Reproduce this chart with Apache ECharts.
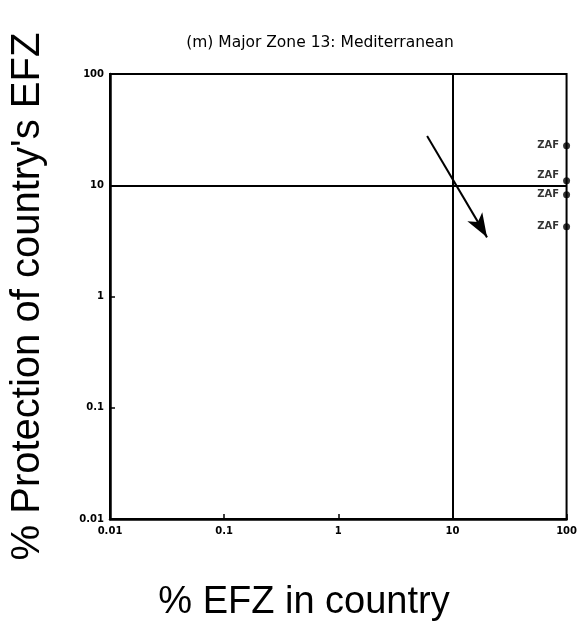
<!DOCTYPE html>
<html>
<head>
<meta charset="utf-8">
<script src="https://cdn.jsdelivr.net/npm/echarts@6/dist/echarts.min.js"></script>
<style>html,body{margin:0;padding:0;background:#fff}#c{width:580px;height:621px}</style>
</head>
<body>
<div id="c"></div>
<script>
// ---- data ----
const xTickLabels = ['0.01', '0.1', '1', '10', '100'];
const yTickLabels = ['0.01', '0.1', '1', '10', '100'];
const countries = ['ZAF', 'ZAF', 'ZAF', 'ZAF'];
const efzInCountry = [100, 100, 100, 100];
const protection = [22.7, 11.0, 8.2, 4.24];
const refLineX = 10;
const refLineY = 10;
const arrowFrom = [6.0, 27.7];
const arrowTo = [20.1, 3.4];

const chart = echarts.init(document.getElementById('c'));
const tickFmt = (labels) => (v) => {
  const i = Math.round(Math.log10(v)) + 2;
  return labels[i] !== undefined ? labels[i] : '';
};
const points = efzInCountry.map((x, i) => {
  const item = { value: [x, protection[i]], name: countries[i] };
  if (i === 1) item.label = { offset: [0, -5] };
  return item;
});
const tickLabelStyle = { fontFamily: 'DejaVu Sans', fontWeight: 'bold', fontSize: 10, color: '#000' };

chart.setOption({
  backgroundColor: '#ffffff',
  animation: false,
  title: [
    { text: '(m) Major Zone 13: Mediterranean', left: 315, top: 30, textAlign: 'center',
      textStyle: { fontFamily: 'DejaVu Sans', fontWeight: 'normal', fontSize: 15.5, color: '#000' } },
    { text: '% EFZ in country', left: 299, top: 579, textAlign: 'center',
      textStyle: { fontFamily: 'Liberation Sans', fontWeight: 'normal', fontSize: 38, color: '#000' } }
  ],
  grid: { left: 109, right: 13, top: 74, bottom: 102, show: true, borderColor: '#000', borderWidth: 2, containLabel: false },
  xAxis: {
    type: 'log', logBase: 10, min: 0.01, max: 100,
    axisLine: { show: true, lineStyle: { color: '#000', width: 2.5 } },
    axisTick: { show: true, inside: true, length: 5, lineStyle: { color: '#000', width: 1.5 } },
    minorTick: { show: false },
    splitLine: { show: false },
    axisLabel: Object.assign({ margin: 7, formatter: tickFmt(xTickLabels) }, tickLabelStyle)
  },
  yAxis: {
    type: 'log', logBase: 10, min: 0.01, max: 100,
    name: "% Protection of country's EFZ",
    nameLocation: 'middle', nameGap: 62,
    nameTextStyle: { fontFamily: 'Liberation Sans', fontSize: 40, color: '#000' },
    axisLine: { show: true, lineStyle: { color: '#000', width: 2.5 } },
    axisTick: { show: true, inside: true, length: 5, lineStyle: { color: '#000', width: 1.5 } },
    minorTick: { show: false },
    splitLine: { show: false },
    axisLabel: Object.assign({ margin: 6, formatter: tickFmt(yTickLabels) }, tickLabelStyle)
  },
  series: [
    {
      type: 'scatter', data: points, symbolSize: 7, clip: false,
      itemStyle: { color: '#000' },
      label: { show: true, position: 'left', distance: 4, formatter: (p) => p.name,
        fontFamily: 'DejaVu Sans', fontWeight: 'bold', fontSize: 10, color: '#000' },
      markLine: {
        silent: true, symbol: ['none', 'none'], animation: false,
        label: { show: false },
        lineStyle: { color: '#000', width: 2, type: 'solid' },
        data: [
          { xAxis: refLineX },
          { yAxis: refLineY },
          [
            { coord: arrowFrom, symbol: 'none' },
            { coord: arrowTo, symbol: 'arrow', symbolSize: [13, 24] }
          ]
        ]
      }
    }
  ]
});
</script>
</body>
</html>
